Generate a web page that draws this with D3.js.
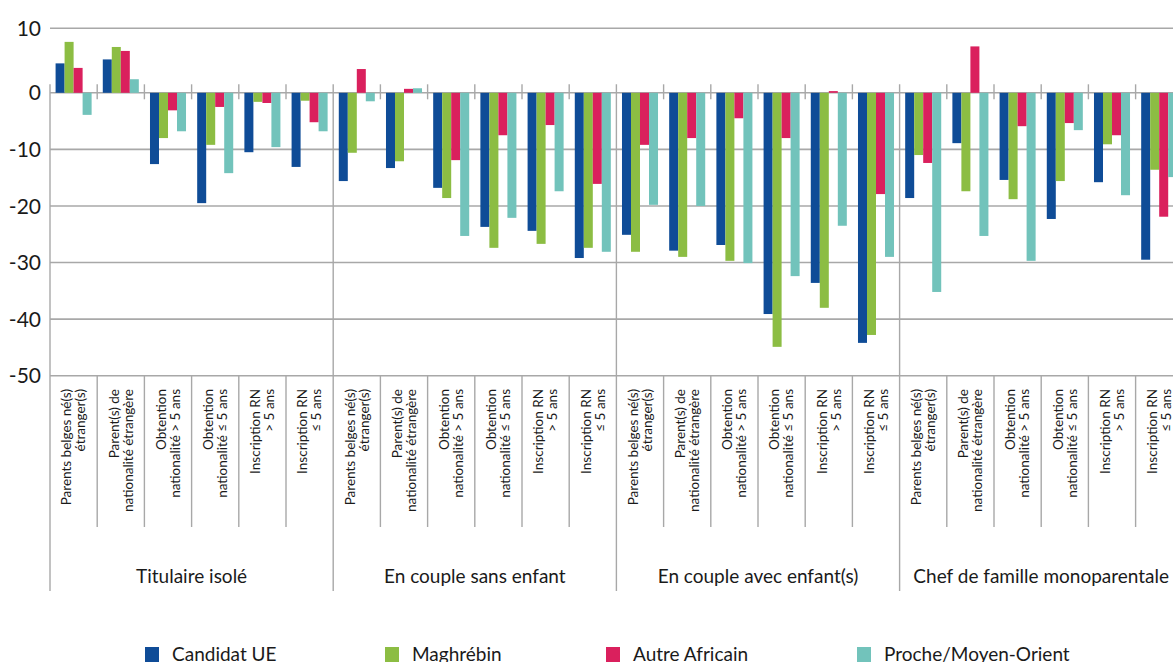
<!DOCTYPE html>
<html>
<head>
<meta charset="utf-8">
<script src="https://cdn.jsdelivr.net/npm/d3@7"></script>
<style>
  body { margin: 0; background: #fff; }
  svg { display: block; font-family: Lato, "Open Sans", sans-serif; }
</style>
</head>
<body>
<div class="chart"></div>
<script>
// data
let groups = ["Titulaire isolé", "En couple sans enfant", "En couple avec enfant(s)", "Chef de famille monoparentale"];
let categories = [
  ["Parents belges né(s)", "étranger(s)"],
  ["Parent(s) de", "nationalité étrangère"],
  ["Obtention", "nationalité > 5 ans"],
  ["Obtention", "nationalité ≤ 5 ans"],
  ["Inscription RN", "> 5 ans"],
  ["Inscription RN", "≤ 5 ans"]
];
let seriesNames = ["Candidat UE", "Maghrébin", "Autre Africain", "Proche/Moyen-Orient"];
// the top label "10" sits at the top of the axis in the original
let yMax = 11.4;
let yTickValues = [yMax, 0, -10, -20, -30, -40, -50];
let yTickLabels = ["10", "0", "-10", "-20", "-30", "-40", "-50"];

let candidatUE = [5.2, 5.9, -12.6, -19.5, -10.5, -13.1, -15.6, -13.3, -16.8, -23.7, -24.4, -29.2, -25.1, -27.9, -26.9, -39.1, -33.6, -44.2, -18.6, -8.9, -15.4, -22.3, -15.8, -29.5];
let maghrebin = [9.0, 8.1, -8.0, -9.2, -1.6, -1.4, -10.6, -12.1, -18.6, -27.4, -26.7, -27.4, -28.1, -29.0, -29.7, -44.9, -38.0, -42.8, -11.0, -17.4, -18.8, -15.6, -9.1, -13.6];
let autreAfricain = [4.4, 7.4, -3.1, -2.5, -1.8, -5.2, 4.2, 0.7, -11.9, -7.5, -5.7, -16.1, -9.2, -8.0, -4.5, -8.0, 0.3, -17.9, -12.4, 8.2, -5.9, -5.35, -7.5, -21.9];
let procheMoyenOrient = [-3.9, 2.4, -6.8, -14.2, -9.6, -6.8, -1.5, 0.8, -25.3, -22.1, -17.4, -28.1, -19.8, -20.0, -30.1, -32.4, -23.5, -29.0, -35.2, -25.3, -29.7, -6.6, -18.1, -14.9];

let seriesValues = [candidatUE, maghrebin, autreAfricain, procheMoyenOrient];
let colors = ["#0f4c97", "#8cbd43", "#da205d", "#72c3bb"];

let svgWidth = 1173;
let svgHeight = 662;
let gridColor = "#a8a8a8";

let svg = d3.select(".chart")
  .append("svg")
  .attr("width", svgWidth)
  .attr("height", svgHeight);

// one slot per (group, category)
let slots = [];
groups.forEach(function(g, gi) {
  categories.forEach(function(c, ci) {
    slots.push({ group: gi, cat: ci, key: gi + "-" + ci });
  });
});

let x0 = d3.scaleBand()
  .domain(slots.map(d => d.key))
  .range([50, 50 + 24 * 47.2])
  .paddingInner(0)
  .paddingOuter(0);

let x1 = d3.scaleBand()
  .domain(seriesNames)
  .range([0, x0.bandwidth()])
  .paddingInner(0)
  .paddingOuter(0.62);

let y = d3.scaleLinear()
  .domain([-50, yMax])
  .range([375.7, 28.3]);

// horizontal gridlines
svg.append("g")
  .selectAll("line")
  .data(yTickValues)
  .enter().append("line")
    .attr("x1", 50)
    .attr("x2", svgWidth)
    .attr("y1", d => y(d))
    .attr("y2", d => y(d))
    .attr("stroke", gridColor)
    .attr("stroke-width", 1.6);

// y labels
svg.append("g")
  .selectAll("text")
  .data(yTickValues)
  .enter().append("text")
    .attr("x", 41)
    .attr("y", d => y(d))
    .attr("dy", "0.36em")
    .attr("text-anchor", "end")
    .attr("font-size", 21)
    .attr("fill", "#1a1a1a")
    .text((d, i) => yTickLabels[i]);

// category ticks at zero line and separators under the plot
let catEdges = slots.filter(d => d.cat > 0).map(d => x0(d.key));
let ticks = svg.append("g").attr("stroke", gridColor).attr("stroke-width", 1.4);
catEdges.forEach(function(xx) {
  ticks.append("line").attr("x1", xx).attr("x2", xx).attr("y1", y(0) - 8.5).attr("y2", y(0) + 6.5);
  ticks.append("line").attr("x1", xx).attr("x2", xx).attr("y1", y(-50)).attr("y2", 527);
});

// group separators, full height
let groupEdges = groups.map((g, gi) => x0(gi + "-0"));
svg.append("g")
  .selectAll("line")
  .data(groupEdges)
  .enter().append("line")
    .attr("x1", d => d)
    .attr("x2", d => d)
    .attr("y1", y(0) - 8.5)
    .attr("y2", 591)
    .attr("stroke", gridColor)
    .attr("stroke-width", 1.4);

// bars
let barG = svg.append("g");
seriesValues.forEach(function(vals, si) {
  barG.append("g")
    .attr("fill", colors[si])
    .selectAll("rect")
    .data(slots)
    .enter().append("rect")
      .attr("x", d => x0(d.key) + x1(seriesNames[si]))
      .attr("width", x1.bandwidth())
      .attr("y", (d, i) => y(Math.max(0, vals[i])))
      .attr("height", (d, i) => Math.abs(y(vals[i]) - y(0)));
});

// rotated category labels
let catLabels = svg.append("g")
  .selectAll("text")
  .data(slots)
  .enter().append("text")
    .attr("transform", d => "translate(" + (x0(d.key) + x0.bandwidth() / 2) + "," + 389 + ") rotate(-90)")
    .attr("text-anchor", "end")
    .attr("font-size", 13.5)
    .attr("fill", "#1a1a1a");

catLabels.each(function(d) {
  let lines = categories[d.cat];
  let t = d3.select(this);
  lines.forEach(function(line, li) {
    t.append("tspan")
      .attr("x", 0)
      .attr("y", (li - (lines.length - 1) / 2) * 14)
      .attr("dy", "0.35em")
      .text(line);
  });
});

// group labels
svg.append("g")
  .selectAll("text")
  .data(groups)
  .enter().append("text")
    .attr("x", (d, gi) => x0(gi + "-0") + 3 * x0.bandwidth())
    .attr("y", 583)
    .attr("text-anchor", "middle")
    .attr("font-size", 19)
    .attr("fill", "#1a1a1a")
    .text(d => d);

// legend
let legendX = [145, 385, 606, 857];
let legend = svg.append("g")
  .selectAll("g")
  .data(seriesNames)
  .enter().append("g")
    .attr("transform", (d, i) => "translate(" + legendX[i] + ",0)");

legend.append("rect")
  .attr("x", 0)
  .attr("y", 647)
  .attr("width", 14)
  .attr("height", 15)
  .attr("fill", (d, i) => colors[i]);

legend.append("text")
  .attr("x", 27)
  .attr("y", 661)
  .attr("font-size", 19)
  .attr("fill", "#1a1a1a")
  .text(d => d);
</script>
</body>
</html>
